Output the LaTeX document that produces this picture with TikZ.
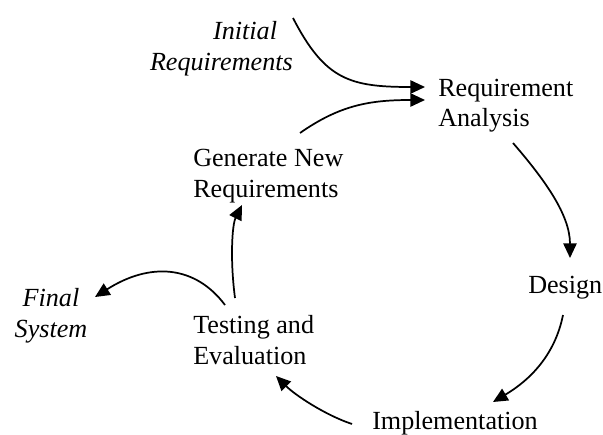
\documentclass[tikz,border=0pt]{standalone}
\usepackage{fontspec}
\setmainfont{Liberation Serif}
\usetikzlibrary{arrows.meta,calc}

\begin{document}
\begin{tikzpicture}[x=0.75pt, y=-0.75pt,
    stage/.style={inner sep=0pt, font=\fontsize{19.6}{23.25}\selectfont},
    given/.style={inner sep=0pt, font=\fontsize{19.6}{23.25}\selectfont\itshape},
    flow/.style={-{Triangle[length=11pt,width=10pt]}, line width=1.3pt}]
    \useasboundingbox (0,0) rectangle (603,435);

    % labels of the cycle (base = last line)
    \node[given, anchor=base east, align=right] (init) at (293,70) {Initial\hspace*{0.6em}\\Requirements};
    \node[stage, anchor=base west, align=left] (ra) at (438,127) {Requirement\\Analysis};
    \node[stage, anchor=base west] (design) at (528,293) {Design};
    \node[stage, anchor=base west] (impl) at (372,429) {Implementation};
    \node[stage, anchor=base west, align=left] (test) at (193,364) {Testing and\\Evaluation};
    \node[stage, anchor=base west, align=left] (gen) at (193,197) {Generate New\\Requirements};
    \node[given, anchor=base, align=center] (final) at (51,337) {Final\\System};
    \coordinate (req) at (293,18);

    % arrows
    \draw[flow] (req) .. controls (325,80) and (350,87) .. ($(ra.base west)+(-13,-40)$);
    \draw[flow] ($(gen.base west)+(107,-64)$) .. controls (340,105) and (370,100) .. ($(ra.base west)+(-13,-27)$);
    \draw[flow] ($(ra.base west)+(75,16)$) .. controls (545,180) and (570,215) .. ($(design.base west)+(42,-35)$);
    \draw[flow] ($(design.base west)+(35,22)$) .. controls (555,355) and (530,380) .. ($(impl.base west)+(121,-27)$);
    \draw[flow] ($(impl.base west)+(-20,-5)$) .. controls (325,415) and (295,395) .. ($(test.base west)+(83,12)$);
    \draw[flow] ($(test.base west)+(42,-66)$) .. controls (230,260) and (232,225) .. ($(gen.base west)+(49,8)$);
    \draw[flow] ($(test.base west)+(32,-59)$) .. controls (195,265) and (150,262) .. ($(final.base)+(44,-40)$);
\end{tikzpicture}
\end{document}
